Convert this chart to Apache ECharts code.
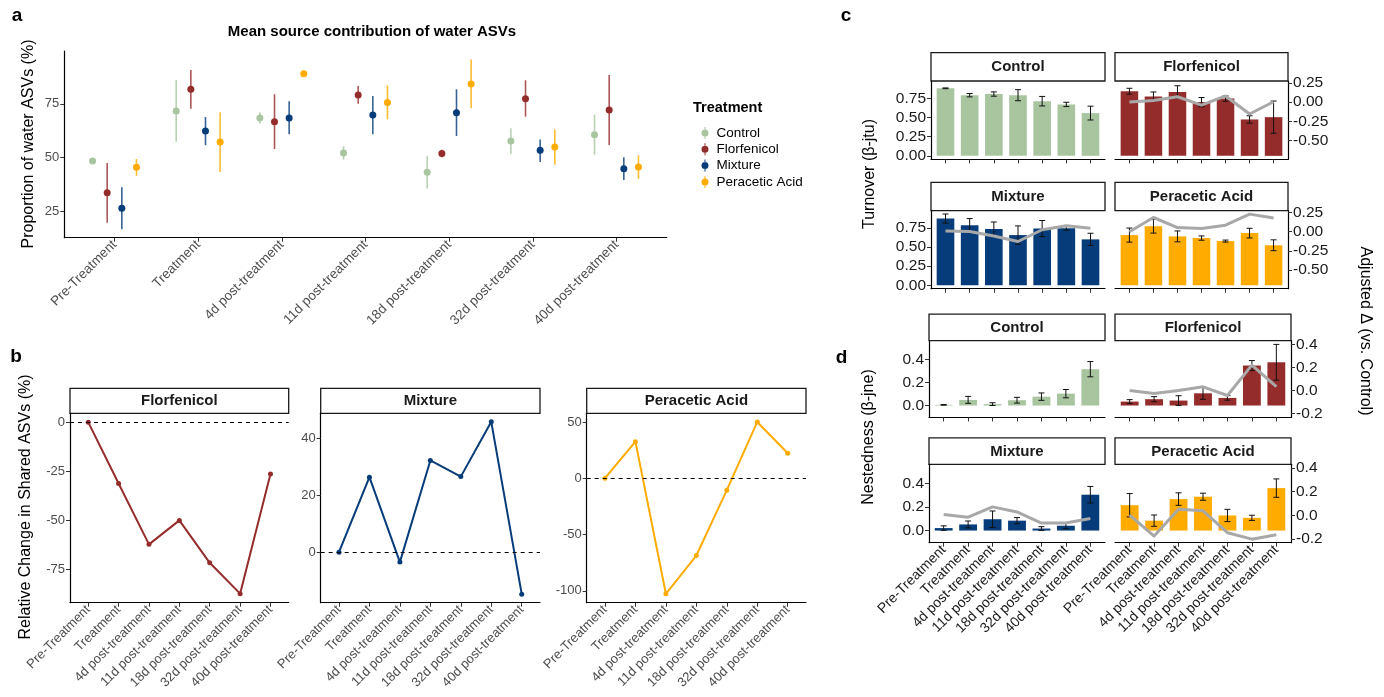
<!DOCTYPE html>
<html>
<head>
<meta charset="utf-8">
<title>Water ASVs</title>
<script src="https://cdn.jsdelivr.net/npm/echarts@6/dist/echarts.min.js"></script>
<style>
  html, body { margin: 0; padding: 0; background: #fff; }
  #chart { width: 1384px; height: 697px; }
</style>
</head>
<body>
<div id="chart"></div>
<script>
// categories
const timepoints = ['Pre-Treatment', 'Treatment', '4d post-treatment', '11d post-treatment',
  '18d post-treatment', '32d post-treatment', '40d post-treatment'];
const treatments = ['Control', 'Florfenicol', 'Mixture', 'Peracetic Acid'];

// a: mean source contribution (%) with interval ends
const aControlMean = [48.5, 71.7, 68.4, 52.2, 43.2, 57.8, 60.7];
const aControlLow = [47.5, 57.4, 65.8, 49.1, 35.6, 51.7, 51.4];
const aControlHigh = [49.5, 86.1, 71.1, 55.3, 50.8, 63.7, 70.0];
const aFlorMean = [33.7, 81.8, 66.7, 79.1, 52.0, 77.4, 72.2];
const aFlorLow = [19.8, 72.8, 54.0, 75.1, 50.2, 69.1, 55.9];
const aFlorHigh = [47.5, 90.8, 79.5, 83.3, 53.7, 86.0, 88.4];
const aMixMean = [26.5, 62.4, 68.4, 69.8, 70.9, 53.4, 44.9];
const aMixLow = [16.7, 55.8, 60.9, 60.9, 60.1, 48.0, 39.6];
const aMixHigh = [36.2, 68.9, 76.2, 78.7, 81.8, 58.5, 50.2];
const aPaaMean = [45.5, 57.3, 89.0, 75.7, 84.2, 55.0, 45.7];
const aPaaLow = [41.6, 43.4, 87.9, 67.8, 73.0, 46.7, 40.2];
const aPaaHigh = [49.4, 71.1, 90.0, 83.6, 95.7, 63.2, 51.1];

// b: relative change in shared ASVs (%)
const bFlorfenicol = [0, -31.2, -62.2, -50.0, -71.6, -87.3, -26.4];
const bMixture = [0, 26.4, -3.5, 32.3, 26.6, 45.9, -14.8];
const bPeracetic = [0, 32.5, -102.7, -68.7, -10.6, 50.0, 22.2];

// c: turnover (beta-jtu), +/- error, adjusted delta line
const cControl = [0.88, 0.79, 0.805, 0.79, 0.712, 0.67, 0.557];
const cControlErr = [0.005, 0.022, 0.028, 0.072, 0.062, 0.028, 0.09];
const cFlor = [0.842, 0.772, 0.833, 0.70, 0.746, 0.474, 0.504];
const cFlorErr = [0.038, 0.06, 0.08, 0.06, 0.035, 0.048, 0.21];
const cFlorDelta = [0, 0.02, 0.07, -0.04, 0.08, -0.155, 0.005];
const cMix = [0.872, 0.785, 0.737, 0.656, 0.742, 0.745, 0.60];
const cMixErr = [0.06, 0.087, 0.09, 0.12, 0.105, 0.025, 0.08];
const cMixDelta = [0.008, 0.004, -0.056, -0.128, 0.026, 0.077, 0.046];
const cPaa = [0.656, 0.772, 0.639, 0.617, 0.578, 0.682, 0.523];
const cPaaErr = [0.092, 0.09, 0.071, 0.028, 0.013, 0.063, 0.071];
const cPaaDelta = [0, 0.186, 0.055, 0.042, 0.085, 0.23, 0.179];

// d: nestedness (beta-jne), +/- error, adjusted delta line
const dControl = [0.006, 0.049, 0.012, 0.046, 0.077, 0.103, 0.315];
const dControlErr = [0.003, 0.03, 0.012, 0.025, 0.032, 0.036, 0.066];
const dFlor = [0.034, 0.055, 0.043, 0.106, 0.066, 0.347, 0.375];
const dFlorErr = [0.017, 0.022, 0.042, 0.052, 0.02, 0.043, 0.155];
const dFlorDelta = [0, -0.026, 0, 0.032, -0.043, 0.22, 0.034];
const dMix = [0.021, 0.052, 0.096, 0.084, 0.017, 0.041, 0.304];
const dMixErr = [0.019, 0.029, 0.07, 0.026, 0.016, 0.026, 0.07];
const dMixDelta = [0.006, -0.017, 0.071, 0.028, -0.066, -0.066, -0.028];
const dPaa = [0.215, 0.084, 0.267, 0.287, 0.128, 0.108, 0.36];
const dPaaErr = [0.099, 0.048, 0.053, 0.03, 0.052, 0.022, 0.078];
const dPaaDelta = [0, -0.177, 0.051, 0.037, -0.148, -0.203, -0.165];

const FONT = '"Liberation Sans", Arial, Helvetica, sans-serif';
const colors = { 'Control': '#a8c5a0', 'Florfenicol': '#952c2c', 'Mixture': '#053c79', 'Peracetic Acid': '#ffab00' };
const xTicks = timepoints.map((_, i) => i);

const grids = [], xAxes = [], yAxes = [], series = [], graphics = [];

function addGrid(left, top, width, height) {
  grids.push({ left: left, top: top, width: width, height: height });
  return grids.length - 1;
}

function addX(gi, labels, fontSize, color) {
  xAxes.push({
    type: 'value', gridIndex: gi, min: -0.6, max: 6.6,
    axisLine: { show: true, onZero: false, lineStyle: { color: '#000', width: 1.2 } },
    axisTick: { show: true, customValues: xTicks, length: 4, lineStyle: { color: '#333' } },
    axisLabel: {
      show: labels, customValues: xTicks, rotate: 45, margin: 5,
      fontSize: fontSize, color: color, fontFamily: FONT,
      formatter: v => timepoints[Math.round(v)]
    },
    splitLine: { show: false }
  });
  return xAxes.length - 1;
}

function addY(gi, o) {
  yAxes.push({
    type: 'value', gridIndex: gi, min: o.min, max: o.max,
    position: o.position || 'left', show: o.show !== false,
    axisLine: { show: true, onZero: false, lineStyle: { color: '#000', width: 1.2 } },
    axisTick: { show: true, customValues: o.ticks, length: 4, lineStyle: { color: '#333' } },
    axisLabel: { customValues: o.ticks, fontSize: o.fontSize, color: o.color, fontFamily: FONT, margin: 5, formatter: o.fmt },
    splitLine: { show: false }
  });
  return yAxes.length - 1;
}

function errRender(color, width, cap, opacity) {
  return function (params, api) {
    const x = api.value(0);
    const hi = api.coord([x, api.value(2)]);
    const lo = api.coord([x, api.value(1)]);
    const style = { stroke: color, lineWidth: width, opacity: opacity };
    const kids = [{ type: 'line', shape: { x1: hi[0], y1: hi[1], x2: lo[0], y2: lo[1] }, style: style }];
    if (cap) {
      kids.push({ type: 'line', shape: { x1: hi[0] - cap, y1: hi[1], x2: hi[0] + cap, y2: hi[1] }, style: style });
      kids.push({ type: 'line', shape: { x1: lo[0] - cap, y1: lo[1], x2: lo[0] + cap, y2: lo[1] }, style: style });
    }
    return { type: 'group', children: kids };
  };
}

function text(x, y, str, size, bold, rot, color, align) {
  graphics.push({
    type: 'text', x: x, y: y, rotation: rot || 0, silent: true,
    style: { text: str, fontSize: size, fontWeight: bold ? 'bold' : 'normal', fontFamily: FONT,
      fill: color || '#000', align: align || 'center', verticalAlign: 'middle' }
  });
}

function strip(x, y, w, h, label) {
  graphics.push({ type: 'rect', silent: true, shape: { x: x, y: y, width: w, height: h },
    style: { fill: '#fff', stroke: '#1a1a1a', lineWidth: 1.3 } });
  text(x + w / 2, y + h / 2 + 0.5, label, 15, true, 0, '#1a1a1a');
}

// ---- panel a
const gA = addGrid(64.3, 51, 602.4, 186.7);
const xA = addX(gA, true, 13.5, '#4d4d4d');
const yA = addY(gA, { min: 12.8, max: 99.6, ticks: [25, 50, 75], fontSize: 13, color: '#4d4d4d' });
const dodge = [-0.2625, -0.0875, 0.0875, 0.2625];
const aMean = [aControlMean, aFlorMean, aMixMean, aPaaMean];
const aLow = [aControlLow, aFlorLow, aMixLow, aPaaLow];
const aHigh = [aControlHigh, aFlorHigh, aMixHigh, aPaaHigh];
treatments.forEach((t, k) => {
  series.push({
    type: 'custom', name: t + ' range', xAxisIndex: xA, yAxisIndex: yA, silent: true, z: 2,
    renderItem: errRender(colors[t], 1.6, 0, 0.8),
    encode: { x: 0, y: [1, 2] },
    data: timepoints.map((_, i) => [i + dodge[k], aLow[k][i], aHigh[k][i]])
  });
  series.push({
    type: 'scatter', name: t, xAxisIndex: xA, yAxisIndex: yA, symbolSize: 7, z: 3,
    itemStyle: { color: colors[t], opacity: 1 },
    data: timepoints.map((_, i) => [i + dodge[k], aMean[k][i]])
  });
});
text(372, 32, 'Mean source contribution of water ASVs', 15, true);
text(29, 144, 'Proportion of water ASVs (%)', 16, false, Math.PI / 2);
text(693, 108, 'Treatment', 14.5, true, 0, '#000', 'left');
text(17, 16, 'a', 19, true);

// ---- panel b
const bFacets = [
  { name: 'Florfenicol', data: bFlorfenicol, left: 70, width: 218.7, min: -91.9, max: 4.5, ticks: [-75, -50, -25, 0] },
  { name: 'Mixture', data: bMixture, left: 320.7, width: 219.3, min: -17.8, max: 48.9, ticks: [0, 20, 40] },
  { name: 'Peracetic Acid', data: bPeracetic, left: 586.7, width: 219.3, min: -110.6, max: 57.7, ticks: [-100, -50, 0, 50] }
];
bFacets.forEach(f => {
  const g = addGrid(f.left, 413.3, f.width, 189.4);
  const x = addX(g, true, 13, '#4d4d4d');
  const y = addY(g, { min: f.min, max: f.max, ticks: f.ticks, fontSize: 13, color: '#4d4d4d' });
  series.push({
    type: 'line', name: 'b ' + f.name, xAxisIndex: x, yAxisIndex: y, z: 3,
    symbol: 'circle', symbolSize: 5, showSymbol: true,
    lineStyle: { color: colors[f.name], width: 2 }, itemStyle: { color: colors[f.name] },
    data: f.data.map((v, i) => [i, v]),
    markLine: { silent: true, symbol: 'none', label: { show: false },
      lineStyle: { color: '#000', type: [4, 4], width: 1 }, data: [{ yAxis: 0 }] }
  });
  strip(f.left, 388.3, f.width, 25, f.name);
});
text(26, 507, 'Relative Change in Shared ASVs (%)', 16, false, Math.PI / 2);
text(16, 357, 'b', 19, true);

// ---- panels c and d
const cScale = { min: -0.045, max: 0.975, ticks: [0, 0.25, 0.5, 0.75], off: 0.7, sec: [-0.5, -0.25, 0, 0.25], digits: 2, strip: 28.3 };
const dScale = { min: -0.103, max: 0.562, ticks: [0, 0.2, 0.4], off: 0.13, sec: [-0.2, 0, 0.2, 0.4], digits: 1, strip: 26.5 };

function barFacet(f, s) {
  const g = addGrid(f.left, f.top, f.width, f.height);
  const x = addX(g, !!f.labels, 14, '#1a1a1a');
  const fmt = v => v.toFixed(s.digits);
  const yP = addY(g, { min: s.min, max: s.max, ticks: s.ticks, fontSize: 15.5, color: '#1a1a1a', fmt: fmt, show: f.side === 'left' });
  const yS = addY(g, { min: s.min - s.off, max: s.max - s.off, ticks: s.sec, fontSize: 15.5, color: '#1a1a1a', fmt: fmt, position: 'right', show: f.side === 'right' });
  const col = colors[f.name];
  series.push({
    type: 'bar', name: 'bar ' + f.name, xAxisIndex: x, yAxisIndex: yP, z: 2,
    barWidth: f.width / 7.2 * 0.73, itemStyle: { color: col },
    data: f.bars.map((v, i) => [i, v])
  });
  series.push({
    type: 'custom', name: 'err ' + f.name, xAxisIndex: x, yAxisIndex: yP, silent: true, z: 3,
    renderItem: errRender('#111', 1, 3, 1), encode: { x: 0, y: [1, 2] },
    data: f.bars.map((v, i) => [i, v - f.err[i], v + f.err[i]])
  });
  if (f.delta) {
    series.push({
      type: 'line', name: 'delta ' + f.name, xAxisIndex: x, yAxisIndex: yS, z: 4,
      symbol: 'none', lineStyle: { color: '#a8a8a8', width: 3, join: 'round' },
      data: f.delta.map((v, i) => [i, v])
    });
  }
  strip(f.left, f.top - s.strip, f.width, s.strip, f.name);
}

barFacet({ name: 'Control', left: 931, top: 81, width: 174, height: 78.3, side: 'left', bars: cControl, err: cControlErr }, cScale);
barFacet({ name: 'Florfenicol', left: 1115, top: 81, width: 173, height: 78.3, side: 'right', bars: cFlor, err: cFlorErr, delta: cFlorDelta }, cScale);
barFacet({ name: 'Mixture', left: 931, top: 210.7, width: 174, height: 78, side: 'left', bars: cMix, err: cMixErr, delta: cMixDelta }, cScale);
barFacet({ name: 'Peracetic Acid', left: 1115, top: 210.7, width: 173, height: 78, side: 'right', bars: cPaa, err: cPaaErr, delta: cPaaDelta }, cScale);

barFacet({ name: 'Control', left: 929, top: 340.7, width: 176, height: 76.7, side: 'left', bars: dControl, err: dControlErr }, dScale);
barFacet({ name: 'Florfenicol', left: 1115, top: 340.7, width: 176, height: 76.7, side: 'right', bars: dFlor, err: dFlorErr, delta: dFlorDelta }, dScale);
barFacet({ name: 'Mixture', left: 929, top: 464.3, width: 176, height: 78.4, side: 'left', labels: true, bars: dMix, err: dMixErr, delta: dMixDelta }, dScale);
barFacet({ name: 'Peracetic Acid', left: 1115, top: 464.3, width: 176, height: 78.4, side: 'right', labels: true, bars: dPaa, err: dPaaErr, delta: dPaaDelta }, dScale);

text(870, 174, 'Turnover (β-jtu)', 16, false, Math.PI / 2);
text(869, 437, 'Nestedness (β-jne)', 16, false, Math.PI / 2);
text(1365, 331, 'Adjusted Δ (vs. Control)', 16, false, -Math.PI / 2);
text(846, 16, 'c', 19, true);
text(841.5, 357.5, 'd', 19, true);

const legendIcon = 'path://M3,0H4V2.6H3Z M3,9.4H4V12H3Z M0,6a3.5,3.5 0 1,0 7,0a3.5,3.5 0 1,0 -7,0Z';

const myChart = echarts.init(document.getElementById('chart'));
myChart.setOption({
  animation: false,
  backgroundColor: '#fff',
  textStyle: { fontFamily: FONT },
  grid: grids,
  xAxis: xAxes,
  yAxis: yAxes,
  legend: {
    orient: 'vertical', left: 696.5, top: 121, itemWidth: 7, itemHeight: 12, itemGap: 2.3,
    icon: legendIcon, selectedMode: false,
    textStyle: { fontSize: 13.5, color: '#000', fontFamily: FONT, padding: [0, 0, 0, 3] },
    data: treatments
  },
  graphic: graphics,
  series: series
});
</script>
</body>
</html>
